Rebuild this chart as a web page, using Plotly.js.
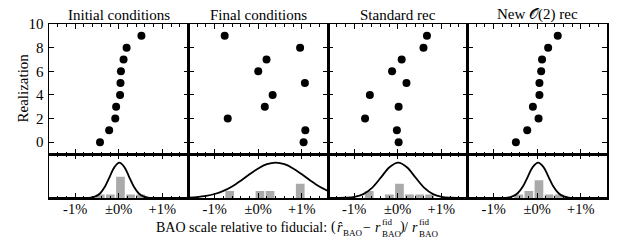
<!DOCTYPE html>
<html><head><meta charset="utf-8">
<script src="https://cdn.plot.ly/plotly-3.0.1.min.js"></script>
<style>html,body{margin:0;padding:0;background:#fff}#chart{width:623px;height:240px}</style>
</head><body><div id="chart"></div>
<script>
const panelTitles = ['Initial conditions', 'Final conditions', 'Standard rec', 'New 𝒪(2) rec'];
const realization = [0, 1, 2, 3, 4, 5, 6, 7, 8, 9];
const shiftInitial  = [-0.43, -0.22, -0.08, -0.06, 0.03, 0.04, 0.05, 0.11, 0.18, 0.52];
const shiftFinal    = [1.04, 1.08, -0.70, 0.15, 0.33, 1.07, 0.00, 0.19, 0.96, -0.77];
const shiftStandard = [0.02, -0.02, -0.75, 0.02, -0.64, 0.20, -0.13, 0.09, 0.59, 0.67];
const shiftNewO2    = [-0.49, -0.23, 0.03, -0.10, 0.05, 0.05, 0.09, 0.11, 0.25, 0.47];

const binCenters = [-0.655, -0.424, -0.193, 0.039, 0.270, 0.501, 0.732, 0.963];
const countsInitial  = [0, 1, 1, 6, 1, 1, 0, 0];
const countsFinal    = [2, 0, 0, 2, 2, 0, 0, 4];
const countsStandard = [2, 0, 1, 4, 1, 1, 1, 0];
const countsNewO2    = [0, 1, 2, 5, 1, 1, 0, 0];

const curveXInitial = [-1.6, -0.865, -0.755, -0.645, -0.535, -0.425, -0.315, -0.205, -0.095, 0.015, 0.125, 0.235, 0.345, 0.455, 0.565, 0.675, 0.785, 0.895, 1.6];
const curveYInitial = [0, 0, 0.02, 0.11, 0.44, 1.35, 3.25, 6.07, 8.82, 10, 8.82, 6.07, 3.25, 1.35, 0.44, 0.11, 0.02, 0, 0];
const curveXFinal = [-1.6, -1.4, -1.2, -1.0, -0.8, -0.6, -0.4, -0.2, 0.0, 0.2, 0.4, 0.6, 0.8, 1.0, 1.2, 1.4, 1.6];
const curveYFinal = [0.12, 0.27, 0.58, 1.13, 2.01, 3.28, 4.90, 6.70, 8.37, 9.56, 10, 9.56, 8.37, 6.70, 4.90, 3.28, 2.01];
const curveXStandard = [-1.6, -1.39, -1.19, -0.99, -0.79, -0.59, -0.39, -0.19, 0.01, 0.21, 0.41, 0.61, 0.81, 1.01, 1.21, 1.41, 1.6];
const curveYStandard = [0, 0.01, 0.07, 0.31, 1.09, 2.87, 5.75, 8.71, 10, 8.71, 5.75, 2.87, 1.09, 0.31, 0.07, 0.01, 0];
const curveXNewO2 = [-1.6, -0.92, -0.80, -0.685, -0.57, -0.45, -0.33, -0.215, -0.10, 0.02, 0.14, 0.255, 0.37, 0.49, 0.61, 0.725, 0.84, 0.96, 1.6];
const curveYNewO2 = [0, 0, 0.02, 0.11, 0.44, 1.35, 3.25, 6.07, 8.82, 10, 8.82, 6.07, 3.25, 1.35, 0.44, 0.11, 0.02, 0, 0];

const xTickVals = [-1, 0, 1];
const xTickText = ['-1%', '±0%', '+1%'];
const yTickVals = [0, 2, 4, 6, 8, 10];

const shifts = [shiftInitial, shiftFinal, shiftStandard, shiftNewO2];
const counts = [countsInitial, countsFinal, countsStandard, countsNewO2];
const curvesX = [curveXInitial, curveXFinal, curveXStandard, curveXNewO2];
const curvesY = [curveYInitial, curveYFinal, curveYStandard, curveYNewO2];

const FONT = 'Liberation Serif';
const L = 49, T = 24, W = 558, H = 174;
const split = 44 / 174;
function px2x(px) { return (px - L) / W; }
function py2y(py) { return (T + H - py) / H; }

const traces = [];
const layout = {
  width: 623, height: 240,
  margin: {l: L, r: 623 - L - W, t: T, b: 240 - T - H, pad: 0},
  paper_bgcolor: '#fff', plot_bgcolor: '#fff',
  showlegend: false, hovermode: false,
  font: {family: FONT, color: '#000', size: 14.5},
  annotations: []
};

const axLine = {showline: true, linecolor: '#000', linewidth: 1.5, mirror: 'ticks',
  showgrid: false, zeroline: false, tickcolor: '#000', tickwidth: 1, ticks: 'inside'};

for (let i = 0; i < 4; i++) {
  const top = i + 1, bot = i + 5;
  const dom = [i / 4, (i + 1) / 4];
  const minor = {tickmode: 'linear', tick0: 0, dtick: 0.2, ticks: 'inside', ticklen: 2.5, tickcolor: '#000', tickwidth: 1, showgrid: false};
  layout['xaxis' + top] = Object.assign({}, axLine, {domain: dom, anchor: 'y' + top, range: [-1.6, 1.6],
    tickmode: 'array', tickvals: xTickVals, ticktext: xTickText, showticklabels: false, ticklen: 5, minor: minor});
  layout['yaxis' + top] = Object.assign({}, axLine, {domain: [split, 1], anchor: 'x' + top, range: [-1, 10],
    tickmode: 'array', tickvals: yTickVals, showticklabels: i === 0, ticklen: 5,
    tickfont: {family: FONT, size: 15}, ticklabelstandoff: 1});
  layout['xaxis' + bot] = Object.assign({}, axLine, {domain: dom, anchor: 'y' + bot, range: [-1.6, 1.6],
    tickmode: 'array', tickvals: xTickVals, ticktext: xTickText, showticklabels: true, ticklen: 5, minor: minor,
    tickfont: {family: FONT, size: 14.5}, ticklabelstandoff: -3});
  layout['yaxis' + bot] = Object.assign({}, axLine, {domain: [0, split], anchor: 'x' + bot, range: [0, 12.45],
    ticks: '', showticklabels: false, mirror: true});

  const sx = i === 0 ? '' : String(top);
  traces.push({type: 'bar', x: binCenters, y: counts[i], width: 0.2, xaxis: 'x' + bot, yaxis: 'y' + bot,
    marker: {color: '#aaaaaa', line: {width: 0}}});
  traces.push({type: 'scatter', mode: 'lines', x: curvesX[i], y: curvesY[i], xaxis: 'x' + bot, yaxis: 'y' + bot,
    line: {color: '#000', width: 1.8, shape: 'spline', smoothing: 1}});
  traces.push({type: 'scatter', mode: 'markers', x: shifts[i], y: realization, xaxis: 'x' + sx, yaxis: 'y' + sx,
    marker: {color: '#000', size: 8}, cliponaxis: false});

  layout.annotations.push({text: panelTitles[i], xref: 'paper', yref: 'paper', x: (i + 0.5) / 4, y: 1,
    xanchor: 'center', yanchor: 'bottom', showarrow: false, borderpad: 0, font: {family: FONT, size: 15}});
}

layout.annotations.push({text: 'Realization', xref: 'paper', yref: 'paper', x: px2x(22), y: py2y(88.5),
  xanchor: 'center', yanchor: 'middle', textangle: -90, showarrow: false, borderpad: 0, font: {family: FONT, size: 15}});

const label = [
  ['BAO scale relative to fiducial:', 328, 227.3, 14, 'right'],
  ['(', 330, 227.3, 14, 'left'],
  ['<i>r\u0302</i>', 335.5, 227.3, 14, 'left'],
  ['BAO', 342, 233, 9, 'left'],
  ['\u2212', 362, 227.3, 14, 'left'],
  ['<i>r</i>', 373.5, 227.3, 14, 'left'],
  ['fid<br>BAO', 380.5, 228, 9, 'left'],
  [')', 399, 227.3, 14, 'left'],
  ['/', 403, 227.3, 14, 'left'],
  ['<i>r</i>', 411, 227.3, 14, 'left'],
  ['fid<br>BAO', 418, 228, 9, 'left']
];
label.forEach(p => layout.annotations.push({text: p[0], xref: 'paper', yref: 'paper', x: px2x(p[1]), y: py2y(p[2]),
  xanchor: p[4], yanchor: 'middle', align: 'left', showarrow: false, borderpad: 0, font: {family: FONT, size: p[3]}}));

Plotly.newPlot('chart', traces, layout, {displayModeBar: false, staticPlot: true});
</script>
</body></html>
